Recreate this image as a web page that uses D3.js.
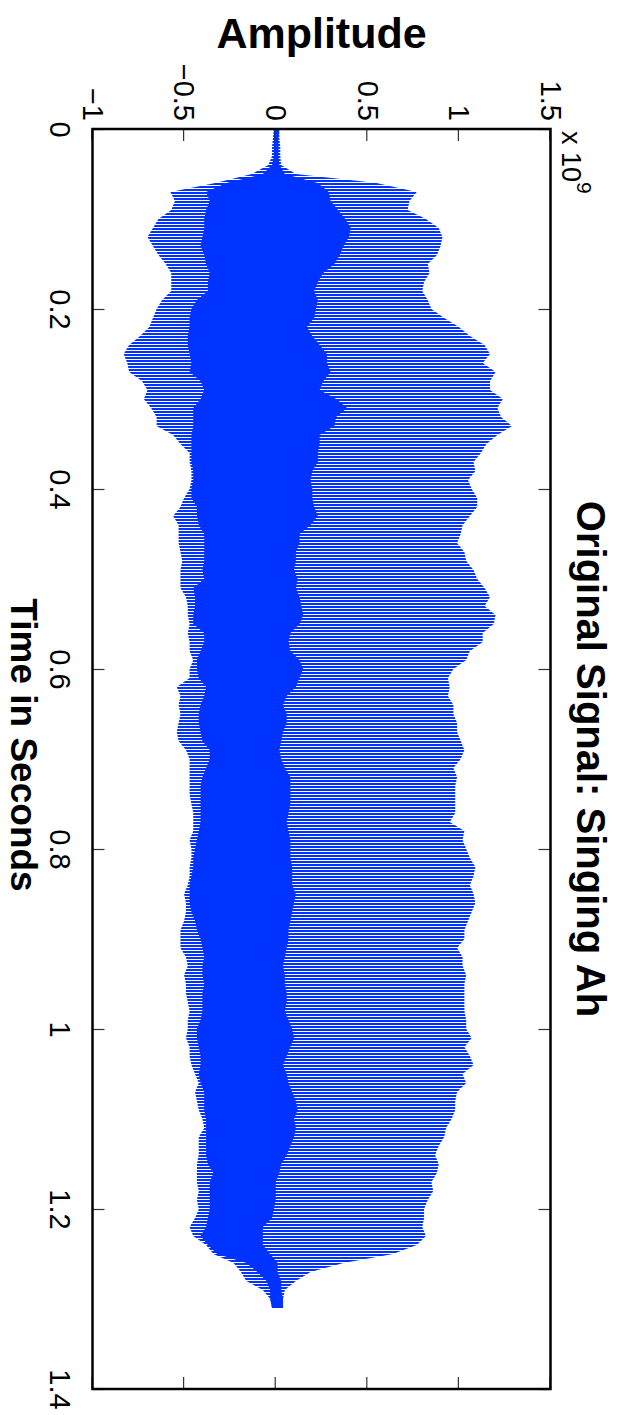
<!DOCTYPE html>
<html>
<head>
<meta charset="utf-8">
<script src="https://cdn.jsdelivr.net/npm/d3@7"></script>
<style>
body { margin: 0; background: #fff; }
svg { display: block; font-family: "Liberation Sans", Arial, Helvetica, sans-serif; }
</style>
</head>
<body>
<svg id="chart"></svg>
<script>
// envelope of the recorded "Ah", read every 10 ms (amplitude in units of 1e9)
const times = [0, 0.01, 0.02, 0.03, 0.04, 0.05, 0.06, 0.07, 0.08, 0.09,
	0.10, 0.11, 0.12, 0.13, 0.14, 0.15, 0.16, 0.17, 0.18, 0.19,
	0.20, 0.21, 0.22, 0.23, 0.24, 0.25, 0.26, 0.27, 0.28, 0.29,
	0.30, 0.31, 0.32, 0.33, 0.34, 0.35, 0.36, 0.37, 0.38, 0.39,
	0.40, 0.41, 0.42, 0.43, 0.44, 0.45, 0.46, 0.47, 0.48, 0.49,
	0.50, 0.51, 0.52, 0.53, 0.54, 0.55, 0.56, 0.57, 0.58, 0.59,
	0.60, 0.61, 0.62, 0.63, 0.64, 0.65, 0.66, 0.67, 0.68, 0.69,
	0.70, 0.71, 0.72, 0.73, 0.74, 0.75, 0.76, 0.77, 0.78, 0.79,
	0.80, 0.81, 0.82, 0.83, 0.84, 0.85, 0.86, 0.87, 0.88, 0.89,
	0.90, 0.91, 0.92, 0.93, 0.94, 0.95, 0.96, 0.97, 0.98, 0.99,
	1.00, 1.01, 1.02, 1.03, 1.04, 1.05, 1.06, 1.07, 1.08, 1.09,
	1.10, 1.11, 1.12, 1.13, 1.14, 1.15, 1.16, 1.17, 1.18, 1.19,
	1.20, 1.21, 1.22, 1.23, 1.24, 1.25, 1.26, 1.27, 1.28, 1.29,
	1.30, 1.31];

// negative peaks
const peakLow = [-0.01, -0.015, -0.02, -0.02, -0.04, -0.13, -0.33, -0.575, -0.55, -0.57,
	-0.64, -0.67, -0.70, -0.67, -0.64, -0.60, -0.57, -0.57, -0.57, -0.62,
	-0.65, -0.67, -0.69, -0.74, -0.80, -0.83, -0.81, -0.80, -0.73, -0.70,
	-0.72, -0.68, -0.65, -0.65, -0.56, -0.52, -0.47, -0.47, -0.46, -0.46,
	-0.47, -0.50, -0.52, -0.56, -0.53, -0.53, -0.53, -0.52, -0.51, -0.52,
	-0.52, -0.52, -0.49, -0.48, -0.48, -0.47, -0.48, -0.47, -0.47, -0.45,
	-0.47, -0.47, -0.54, -0.52, -0.53, -0.52, -0.53, -0.54, -0.53, -0.49,
	-0.47, -0.47, -0.47, -0.47, -0.47, -0.46, -0.45, -0.45, -0.45, -0.47,
	-0.46, -0.46, -0.47, -0.47, -0.48, -0.50, -0.49, -0.49, -0.50, -0.52,
	-0.52, -0.52, -0.49, -0.48, -0.50, -0.49, -0.49, -0.48, -0.47, -0.48,
	-0.48, -0.49, -0.47, -0.47, -0.46, -0.44, -0.42, -0.44, -0.43, -0.42,
	-0.40, -0.39, -0.42, -0.42, -0.42, -0.43, -0.43, -0.43, -0.42, -0.43,
	-0.42, -0.44, -0.47, -0.45, -0.38, -0.34, -0.23, -0.19, -0.16, -0.07,
	-0.03, -0.02];

// positive peaks
const peakHigh = [0.02, 0.02, 0.025, 0.025, 0.03, 0.11, 0.55, 0.77, 0.73, 0.72,
	0.82, 0.89, 0.91, 0.90, 0.88, 0.83, 0.84, 0.81, 0.80, 0.83,
	0.85, 0.92, 1.00, 1.06, 1.14, 1.17, 1.13, 1.20, 1.17, 1.17,
	1.24, 1.21, 1.23, 1.29, 1.21, 1.15, 1.12, 1.08, 1.09, 1.05,
	1.07, 1.10, 1.10, 1.06, 1.02, 1.01, 0.99, 1.03, 1.04, 1.08,
	1.10, 1.14, 1.17, 1.14, 1.20, 1.19, 1.13, 1.13, 1.06, 1.04,
	0.97, 0.94, 0.95, 0.94, 0.97, 0.97, 0.99, 0.99, 1.01, 1.03,
	1.01, 0.97, 0.99, 0.98, 0.98, 0.98, 0.98, 0.95, 1.03, 1.02,
	1.04, 1.06, 1.09, 1.08, 1.06, 1.08, 1.09, 1.07, 1.05, 1.03,
	1.03, 0.99, 1.02, 1.02, 1.04, 1.03, 1.03, 1.03, 1.03, 1.04,
	1.04, 1.07, 1.03, 1.06, 1.08, 1.02, 1.04, 0.99, 0.98, 0.98,
	0.96, 0.93, 0.92, 0.89, 0.87, 0.89, 0.88, 0.85, 0.86, 0.83,
	0.81, 0.81, 0.80, 0.82, 0.77, 0.64, 0.37, 0.19, 0.11, 0.05,
	0.04, 0.04];

// solid band where the cycles overlap
const coreLow = [-0.01, -0.01, -0.01, -0.01, -0.02, -0.07, -0.27, -0.38, -0.36, -0.38,
	-0.39, -0.39, -0.40, -0.41, -0.39, -0.38, -0.36, -0.37, -0.37, -0.43,
	-0.46, -0.47, -0.47, -0.48, -0.48, -0.47, -0.46, -0.47, -0.41, -0.39,
	-0.41, -0.45, -0.45, -0.45, -0.46, -0.46, -0.46, -0.46, -0.45, -0.45,
	-0.46, -0.46, -0.43, -0.43, -0.42, -0.39, -0.39, -0.39, -0.39, -0.40,
	-0.39, -0.45, -0.44, -0.44, -0.45, -0.45, -0.39, -0.39, -0.41, -0.43,
	-0.43, -0.42, -0.38, -0.39, -0.41, -0.42, -0.42, -0.41, -0.40, -0.36,
	-0.36, -0.38, -0.40, -0.41, -0.41, -0.41, -0.41, -0.41, -0.42, -0.43,
	-0.44, -0.45, -0.45, -0.46, -0.47, -0.47, -0.47, -0.46, -0.44, -0.43,
	-0.41, -0.40, -0.39, -0.40, -0.40, -0.39, -0.40, -0.40, -0.40, -0.41,
	-0.43, -0.43, -0.42, -0.41, -0.41, -0.42, -0.41, -0.39, -0.39, -0.39,
	-0.38, -0.38, -0.38, -0.38, -0.38, -0.37, -0.34, -0.36, -0.36, -0.36,
	-0.36, -0.37, -0.38, -0.41, -0.37, -0.32, -0.16, -0.10, -0.05, -0.03,
	-0.03, -0.02];

const coreHigh = [0.02, 0.015, 0.015, 0.015, 0.02, 0.05, 0.23, 0.29, 0.30, 0.34,
	0.38, 0.41, 0.40, 0.37, 0.35, 0.32, 0.26, 0.23, 0.21, 0.23,
	0.22, 0.21, 0.17, 0.20, 0.24, 0.28, 0.28, 0.30, 0.26, 0.24,
	0.33, 0.39, 0.33, 0.32, 0.24, 0.24, 0.23, 0.23, 0.20, 0.19,
	0.20, 0.20, 0.21, 0.23, 0.19, 0.13, 0.13, 0.11, 0.11, 0.10,
	0.12, 0.11, 0.13, 0.14, 0.15, 0.13, 0.08, 0.07, 0.08, 0.13,
	0.15, 0.13, 0.11, 0.06, 0.04, 0.06, 0.06, 0.04, 0.03, 0.02,
	0.03, 0.05, 0.08, 0.08, 0.08, 0.08, 0.07, 0.06, 0.07, 0.08,
	0.08, 0.08, 0.09, 0.09, 0.09, 0.11, 0.10, 0.09, 0.08, 0.07,
	0.07, 0.06, 0.05, 0.04, 0.05, 0.05, 0.06, 0.06, 0.05, 0.07,
	0.09, 0.10, 0.08, 0.06, 0.04, 0.06, 0.07, 0.09, 0.11, 0.12,
	0.10, 0.11, 0.10, 0.08, 0.06, 0.03, 0.02, 0.00, 0.00, 0.00,
	-0.01, -0.02, -0.07, -0.07, -0.07, -0.03, 0.01, 0.01, 0.03, 0.03,
	0.04, 0.04];

const timeTicks = [0, 0.2, 0.4, 0.6, 0.8, 1, 1.2, 1.4];
const timeLabels = ["0", "0.2", "0.4", "0.6", "0.8", "1", "1.2", "1.4"];
const ampTicks = [-1, -0.5, 0, 0.5, 1, 1.5];
const ampLabels = ["\u22121", "\u22120.5", "0", "0.5", "1", "1.5"];

const W = 619, H = 1415;
const blue = "#0033ff";

const svg = d3.select("#chart").attr("width", W).attr("height", H);

// the whole figure is drawn landscape, then turned a quarter clockwise
const g = svg.append("g").attr("transform", "translate(" + W + ",0) rotate(90)");

const x = d3.scaleLinear().domain([0, 1.4]).range([129, 1389]);
const y = d3.scaleLinear().domain([-1, 1.5]).range([526.5, 68.5]);

// one stripe per glottal cycle
const defs = svg.append("defs");
const pat = defs.append("pattern")
	.attr("id", "cycles")
	.attr("patternUnits", "userSpaceOnUse")
	.attr("width", 3)
	.attr("height", 20);
pat.append("rect").attr("width", 2).attr("height", 20).attr("fill", blue);

const idx = times.map(function (d, i) { return i; });

const outer = d3.area()
	.x(function (i) { return x(times[i]); })
	.y0(function (i) { return y(peakLow[i]); })
	.y1(function (i) { return y(peakHigh[i]); });

const core = d3.area()
	.x(function (i) { return x(times[i]); })
	.y0(function (i) { return y(coreLow[i]); })
	.y1(function (i) { return y(coreHigh[i]); });

g.append("path").datum(idx).attr("d", outer).attr("fill", "url(#cycles)");
g.append("path").datum(idx).attr("d", core).attr("fill", blue);

// ticks on all four sides, pointing inwards
const tickCol = "#333";
const axB = g.append("g").attr("transform", "translate(0," + y(-1) + ")")
	.call(d3.axisBottom(x).tickValues(timeTicks)
		.tickFormat(function (d, i) { return timeLabels[i]; })
		.tickSizeInner(-12).tickSizeOuter(0).tickPadding(22));
const axT = g.append("g").attr("transform", "translate(0," + y(1.5) + ")")
	.call(d3.axisTop(x).tickValues(timeTicks).tickFormat("")
		.tickSizeInner(-12).tickSizeOuter(0));
const axL = g.append("g").attr("transform", "translate(" + x(0) + ",0)")
	.call(d3.axisLeft(y).tickValues(ampTicks)
		.tickFormat(function (d, i) { return ampLabels[i]; })
		.tickSizeInner(-12).tickSizeOuter(0).tickPadding(8));
const axR = g.append("g").attr("transform", "translate(" + x(1.4) + ",0)")
	.call(d3.axisRight(y).tickValues(ampTicks).tickFormat("")
		.tickSizeInner(-12).tickSizeOuter(0));

[axB, axT, axL, axR].forEach(function (a) {
	a.select(".domain").remove();
	a.selectAll(".tick line").attr("stroke", tickCol).attr("stroke-width", 1.2);
	a.selectAll(".tick text")
		.attr("fill", "#000")
		.style("font-size", "29px")
		.style("font-family", "'Liberation Sans', Arial, Helvetica, sans-serif");
});

g.append("rect")
	.attr("x", x(0)).attr("y", y(1.5))
	.attr("width", x(1.4) - x(0)).attr("height", y(-1) - y(1.5))
	.attr("fill", "none").attr("stroke", "#000").attr("stroke-width", 2.5);

// exponent
const expo = g.append("text")
	.attr("x", x(0) + 2).attr("y", 57)
	.style("font-size", "27px");
expo.append("tspan").text("x 10");
expo.append("tspan").attr("dy", -15).style("font-size", "21px").text("9");

g.append("text")
	.attr("x", (x(0) + x(1.4)) / 2).attr("y", 42)
	.attr("text-anchor", "middle")
	.style("font-size", "40px").style("font-weight", "bold")
	.text("Original Signal: Singing Ah");

g.append("text")
	.attr("x", (x(0) + x(1.4)) / 2 - 14).attr("y", 608)
	.attr("text-anchor", "middle")
	.style("font-size", "37px").style("font-weight", "bold")
	.text("Time in Seconds");

g.append("text")
	.attr("transform", "translate(48," + ((y(-1) + y(1.5)) / 2) + ") rotate(-90)")
	.attr("text-anchor", "middle")
	.style("font-size", "43px").style("font-weight", "bold")
	.text("Amplitude");
</script>
</body>
</html>
